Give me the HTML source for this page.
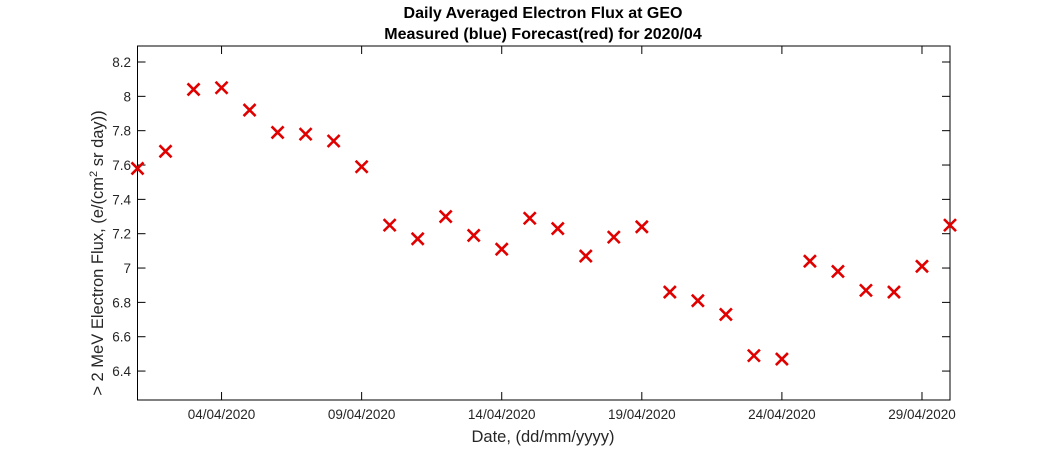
<!DOCTYPE html>
<html><head><meta charset="utf-8"><style>
body{margin:0;background:#fff;}
svg text{font-family:"Liberation Sans",sans-serif;}
</style></head><body>
<svg id="chart" width="1050" height="450">
<text x="543" y="18" text-anchor="middle" font-size="16" font-weight="bold">Daily Averaged Electron Flux at GEO</text>
<text x="543" y="39" text-anchor="middle" font-size="16" font-weight="bold">Measured (blue) Forecast(red) for 2020/04</text>
<rect x="137.5" y="46" width="812.5" height="354" fill="none" stroke="#000" stroke-width="1"/>
<g id="yticks"></g><g id="xticks"></g><g id="marks"></g>
<text x="543" y="442" text-anchor="middle" font-size="16.5" fill="#262626">Date, (dd/mm/yyyy)</text>
<text transform="translate(103,253) rotate(-90)" text-anchor="middle" font-size="16.5" fill="#262626">&gt; 2 MeV Electron Flux, (e/(cm<tspan dy="-6" font-size="11">2</tspan><tspan dy="6"> sr day))</tspan></text>
</svg>
<script>
const days=[1,2,3,4,5,6,7,8,9,10,11,12,13,14,15,16,17,18,19,20,21,22,23,24,25,26,27,28,29,30];
const forecast=[7.58,7.68,8.04,8.05,7.92,7.79,7.78,7.74,7.59,7.25,7.17,7.30,7.19,7.11,7.29,7.23,7.07,7.18,7.24,6.86,6.81,6.73,6.49,6.47,7.04,6.98,6.87,6.86,7.01,7.25];
const yTicks=[6.4,6.6,6.8,7,7.2,7.4,7.6,7.8,8,8.2];
const xTickDays=[4,9,14,19,24,29];
const xTickLabels=["04/04/2020","09/04/2020","14/04/2020","19/04/2020","24/04/2020","29/04/2020"];
const NS="http://www.w3.org/2000/svg";
const x=d=>137.5+(d-1)*(950-137.5)/29;
const y=v=>62+(8.2-v)*171.7;
const yt=document.getElementById('yticks');
yTicks.forEach(v=>{
 const l=document.createElementNS(NS,'line');
 
 
 l.setAttribute('x1',137.5);l.setAttribute('x2',145.5);l.setAttribute('y1',y(v));l.setAttribute('y2',y(v));l.setAttribute('stroke','#000');yt.appendChild(l);
 const l2=document.createElementNS(NS,'line');
 
 
 l2.setAttribute('x1',942);l2.setAttribute('x2',950);l2.setAttribute('y1',y(v));l2.setAttribute('y2',y(v));l2.setAttribute('stroke','#000');yt.appendChild(l2);
 const t=document.createElementNS(NS,'text');
 
 
 t.setAttribute('x',131);t.setAttribute('y',y(v)+5);t.setAttribute('text-anchor','end');t.setAttribute('font-size','13.5');t.setAttribute('fill','#262626');
 t.textContent=String(v);yt.appendChild(t);
});
const xt=document.getElementById('xticks');
xTickDays.forEach((d,i)=>{
 [[46,54],[392,400]].forEach(p=>{
 const l=document.createElementNS(NS,'line');
 
 
 l.setAttribute('x1',x(d));l.setAttribute('x2',x(d));l.setAttribute('y1',p[0]);l.setAttribute('y2',p[1]);l.setAttribute('stroke','#000');xt.appendChild(l);});
 const t=document.createElementNS(NS,'text');
 
 
 t.setAttribute('x',x(d));t.setAttribute('y',419);t.setAttribute('text-anchor','middle');t.setAttribute('font-size','13.5');t.setAttribute('fill','#262626');
 t.textContent=xTickLabels[i];xt.appendChild(t);
});
const mk=document.getElementById('marks');
days.forEach((d,i)=>{
 const cx=x(d),cy=y(forecast[i]),s=6;
 const p=document.createElementNS(NS,'path');
 
 
 p.setAttribute('d',`M${cx-s},${cy-s}L${cx+s},${cy+s}M${cx-s},${cy+s}L${cx+s},${cy-s}`);
 p.setAttribute('stroke','#e00000');p.setAttribute('stroke-width','2.6');p.setAttribute('fill','none');
 mk.appendChild(p);
});
</script>
</body></html>
